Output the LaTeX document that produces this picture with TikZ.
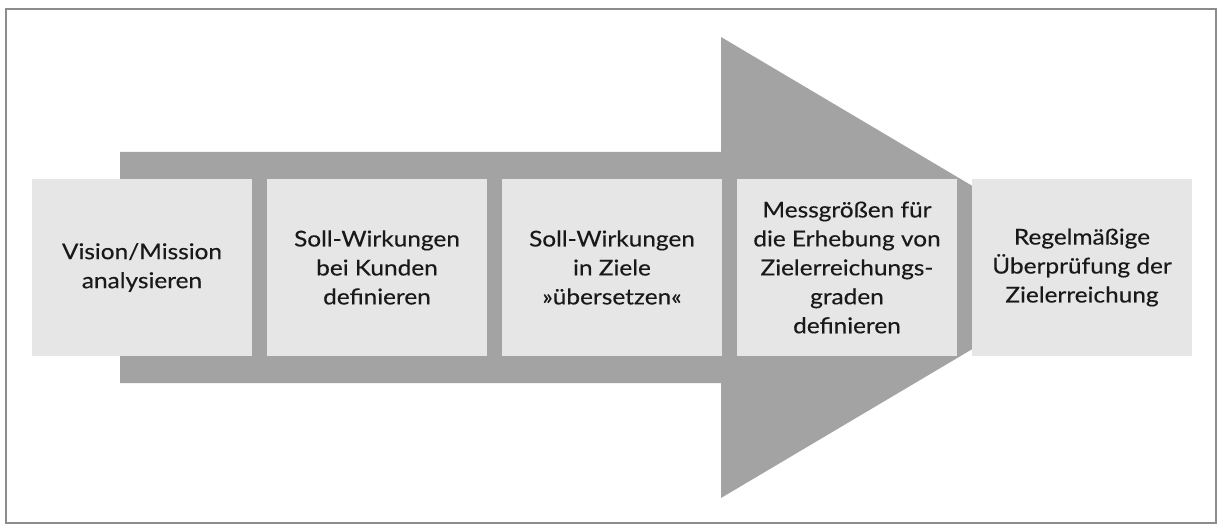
\documentclass[tikz,border=0pt]{standalone}
\usepackage{fontspec}
\setmainfont{Lato}[FakeStretch=1.12, FakeBold=0.3]
\usetikzlibrary{positioning}
\definecolor{boxgray}{HTML}{E6E6E6}
\definecolor{arrowgray}{HTML}{A3A3A3}
\definecolor{framegray}{HTML}{8C8C8C}

\begin{document}
\begin{tikzpicture}[stage/.style={fill=boxgray, minimum width=5.5cm, minimum height=4.425cm, inner sep=0pt, outer sep=0pt, align=center, text=black!90, font=\fontsize{15.5}{20.6}\selectfont}]
  \useasboundingbox (0,0) rectangle (30.5,13.125);
  \draw[framegray, line width=1.4pt] (0.15,0.05) rectangle (30.4,12.9);
  % big arrow behind the stages
  \fill[arrowgray] (3,9.325) -- (18.025,9.325) -- (18.025,12.2) -- (27.75,6.4375)
    -- (18.025,0.675) -- (18.025,3.55) -- (3,3.55) -- cycle;
  \node[stage, anchor=west] (vision) at (0.8,6.4375) {Vision/Mission\\analysieren};
  \node[stage, right=0.375cm of vision] (kunden) {Soll-Wirkungen\\bei Kunden\\definieren};
  \node[stage, right=0.375cm of kunden] (ziele) {Soll-Wirkungen\\in Ziele\\»übersetzen«};
  \node[stage, right=0.375cm of ziele] (mess) {Messgrößen für\\die Erhebung von\\Zielerreichungs-\\graden\\definieren};
  \node[stage, right=0.375cm of mess] (pruef) {Regelmäßige\\Überprüfung der\\Zielerreichung};
\end{tikzpicture}
\end{document}
